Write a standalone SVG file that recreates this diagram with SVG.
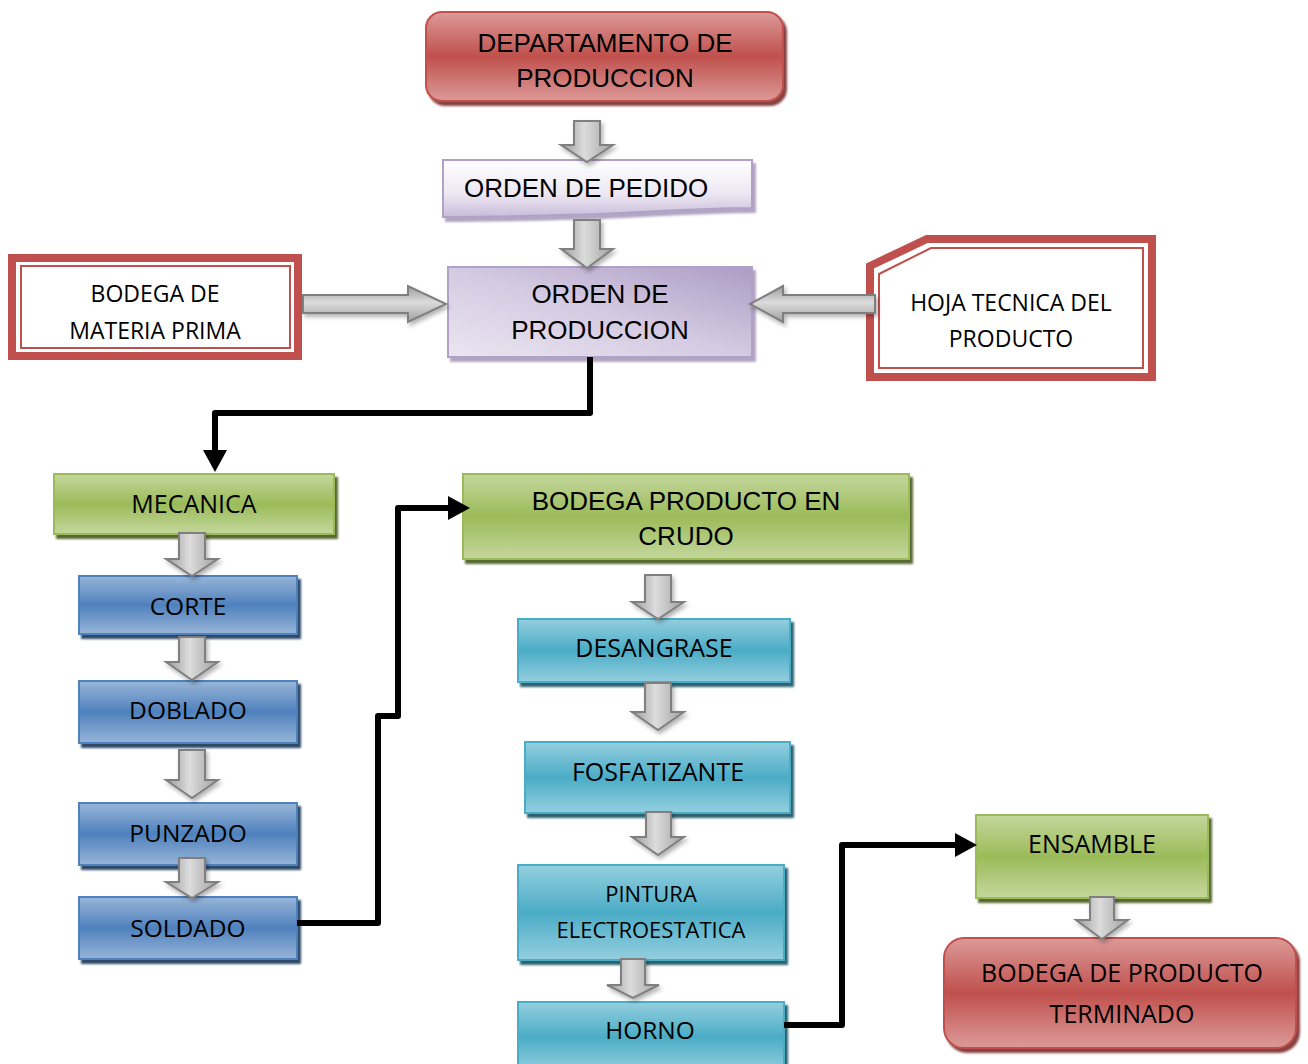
<svg xmlns="http://www.w3.org/2000/svg" width="1308" height="1064" viewBox="0 0 1308 1064">
<style>
.ar{font-family:"Liberation Sans",Arial,sans-serif;font-size:26px;fill:#000;text-anchor:middle}
.ca{font-family:"Open Sans","Noto Sans",sans-serif;font-size:24.5px;fill:#000;text-anchor:middle}
.sm{font-size:23px}
.red{fill:url(#gRed);stroke:#c0504d;stroke-width:2;filter:url(#shRed)}
.grn{fill:url(#gGrn);stroke:#9bbb59;stroke-width:2;filter:url(#shGrn)}
.blu{fill:url(#gBlu);stroke:#4f81bd;stroke-width:2;filter:url(#shBlu)}
.tea{fill:url(#gTea);stroke:#4bacc6;stroke-width:2;filter:url(#shTea)}
.frame{fill:#fff;stroke:#c0504d}
.blk{fill:url(#gArrV);stroke:#7f7f7f;stroke-width:2;filter:url(#shArr)}
.blkh{fill:url(#gArrH);stroke:#7f7f7f;stroke-width:2;filter:url(#shArr)}
.con{fill:none;stroke:#000;stroke-width:6;stroke-linejoin:round;marker-end:url(#ah)}
</style>
<defs>
<linearGradient id="gRed" x1="0" y1="0" x2="0" y2="1"><stop offset="0" stop-color="#dc9a98"/><stop offset="0.5" stop-color="#c0504d"/><stop offset="1" stop-color="#dc9a98"/></linearGradient>
<linearGradient id="gGrn" x1="0" y1="0" x2="0" y2="1"><stop offset="0" stop-color="#c4d79d"/><stop offset="0.5" stop-color="#9bbb59"/><stop offset="1" stop-color="#c4d79d"/></linearGradient>
<linearGradient id="gBlu" x1="0" y1="0" x2="0" y2="1"><stop offset="0" stop-color="#98b5d8"/><stop offset="0.5" stop-color="#4f81bd"/><stop offset="1" stop-color="#98b5d8"/></linearGradient>
<linearGradient id="gTea" x1="0" y1="0" x2="0" y2="1"><stop offset="0" stop-color="#94cfdf"/><stop offset="0.5" stop-color="#4bacc6"/><stop offset="1" stop-color="#94cfdf"/></linearGradient>
<linearGradient id="gLav" x1="0" y1="0" x2="0" y2="1"><stop offset="0" stop-color="#ffffff"/><stop offset="0.6" stop-color="#ece7f2"/><stop offset="1" stop-color="#c9bcda"/></linearGradient>
<linearGradient id="gPur" x1="0" y1="1" x2="1" y2="0"><stop offset="0" stop-color="#ebe6f1"/><stop offset="0.5" stop-color="#d4cae2"/><stop offset="1" stop-color="#ad9cc5"/></linearGradient>
<linearGradient id="gArrV" x1="0" y1="0" x2="1" y2="0"><stop offset="0" stop-color="#9a9a9a"/><stop offset="0.45" stop-color="#dcdcdc"/><stop offset="1" stop-color="#a0a0a0"/></linearGradient>
<linearGradient id="gArrH" x1="0" y1="0" x2="0" y2="1"><stop offset="0" stop-color="#9a9a9a"/><stop offset="0.45" stop-color="#dcdcdc"/><stop offset="1" stop-color="#a0a0a0"/></linearGradient>
<filter id="shRed" x="-10%" y="-20%" width="125%" height="150%"><feDropShadow dx="3" dy="4" stdDeviation="1" flood-color="#7a2f2d" flood-opacity="0.9"/></filter>
<filter id="shGrn" x="-10%" y="-20%" width="125%" height="150%"><feDropShadow dx="3" dy="4" stdDeviation="0.8" flood-color="#4f6228" flood-opacity="0.95"/></filter>
<filter id="shBlu" x="-10%" y="-20%" width="125%" height="150%"><feDropShadow dx="3" dy="4" stdDeviation="0.8" flood-color="#243f60" flood-opacity="0.95"/></filter>
<filter id="shTea" x="-10%" y="-20%" width="125%" height="150%"><feDropShadow dx="3" dy="4" stdDeviation="0.8" flood-color="#215968" flood-opacity="0.95"/></filter>
<filter id="shPur" x="-10%" y="-20%" width="125%" height="150%"><feDropShadow dx="3" dy="4" stdDeviation="1.2" flood-color="#7d6a99" flood-opacity="0.6"/></filter>
<filter id="shArr" x="-30%" y="-30%" width="170%" height="170%"><feDropShadow dx="2" dy="3" stdDeviation="2" flood-color="#000" flood-opacity="0.3"/></filter>
<marker id="ah" viewBox="0 -12 22 24" refX="0" refY="0" markerWidth="22" markerHeight="24" markerUnits="userSpaceOnUse" orient="auto"><path d="M0,-12 L22,0 L0,12 Z" fill="#000"/></marker>
</defs>

<g id="departamento">
<rect class="red" x="426" y="12" width="357" height="89" rx="16"/>
<text class="ar" x="605" y="52">DEPARTAMENTO DE</text>
<text class="ar" x="605" y="87">PRODUCCION</text>
</g>

<g id="orden-pedido">
<path d="M443 160 H752 V208 C700 208 650 212 600 214 C530 216 480 217 443 217 Z" fill="url(#gLav)" stroke="#b2a1c7" stroke-width="2" filter="url(#shPur)"/>
<text class="ar" x="464" y="197" style="text-anchor:start">ORDEN DE PEDIDO</text>
</g>

<g id="orden-produccion">
<rect x="448" y="267" width="304" height="90" fill="url(#gPur)" stroke="#b2a1c7" stroke-width="2" filter="url(#shPur)"/>
<text class="ar" x="600" y="303">ORDEN DE</text>
<text class="ar" x="600" y="339">PRODUCCION</text>
</g>

<g id="bodega-materia-prima">
<rect class="frame" x="12" y="258" width="286" height="98" stroke-width="8"/>
<rect class="frame" x="21" y="266" width="269" height="82" stroke-width="2"/>
<text class="ca sm" x="155" y="302">BODEGA DE</text>
<text class="ca sm" x="155" y="339">MATERIA PRIMA</text>
</g>

<g id="hoja-tecnica">
<path class="frame" d="M870 266 L927 239 H1152 V377 H870 Z" stroke-width="8"/>
<path class="frame" d="M879 274 L931 248 H1143 V368 H879 Z" stroke-width="2"/>
<text class="ca sm" x="1011" y="311">HOJA TECNICA DEL</text>
<text class="ca sm" x="1011" y="347">PRODUCTO</text>
</g>

<g id="mecanica">
<rect class="grn" x="54" y="474" width="280" height="60"/>
<text class="ca" x="194" y="513" style="font-size:25px">MECANICA</text>
</g>

<g id="corte">
<rect class="blu" x="79" y="576" width="218" height="58"/>
<text class="ca" x="188" y="615">CORTE</text>
</g>

<g id="doblado">
<rect class="blu" x="79" y="681" width="218" height="62"/>
<text class="ca" x="188" y="719">DOBLADO</text>
</g>

<g id="punzado">
<rect class="blu" x="79" y="803" width="218" height="62"/>
<text class="ca" x="188" y="842">PUNZADO</text>
</g>

<g id="soldado">
<rect class="blu" x="79" y="897" width="218" height="62"/>
<text class="ca" x="188" y="937">SOLDADO</text>
</g>

<g id="bodega-crudo">
<rect class="grn" x="463" y="474" width="446" height="85"/>
<text class="ar" x="686" y="510">BODEGA PRODUCTO EN</text>
<text class="ar" x="686" y="545">CRUDO</text>
</g>

<g id="desangrase">
<rect class="tea" x="518" y="619" width="272" height="63"/>
<text class="ca" x="654" y="657" style="font-size:25px">DESANGRASE</text>
</g>

<g id="fosfatizante">
<rect class="tea" x="525" y="742" width="265" height="71"/>
<text class="ca" x="658" y="781" style="font-size:25px">FOSFATIZANTE</text>
</g>

<g id="pintura">
<rect class="tea" x="518" y="865" width="266" height="95"/>
<text class="ca sm" x="651" y="902" style="font-size:22px">PINTURA</text>
<text class="ca sm" x="651" y="938" style="font-size:22px">ELECTROESTATICA</text>
</g>

<g id="horno">
<rect class="tea" x="518" y="1002" width="266" height="70"/>
<text class="ca" x="650" y="1039">HORNO</text>
</g>

<g id="ensamble">
<rect class="grn" x="976" y="815" width="232" height="83"/>
<text class="ca" x="1092" y="853" style="font-size:25px">ENSAMBLE</text>
</g>

<g id="bodega-terminado">
<rect class="red" x="944" y="938" width="352" height="110" rx="20"/>
<text class="ca" x="1122" y="982" style="font-size:25px">BODEGA DE PRODUCTO</text>
<text class="ca" x="1122" y="1023" style="font-size:25px">TERMINADO</text>
</g>

<g id="connectors">
<path class="blk" d="M574 121 H600 V145 H613 L587 162 L561 145 H574 Z"/>
<path class="blk" d="M574 220 H600 V249 H613 L587 268 L561 249 H574 Z"/>
<path class="blkh" d="M303 295 H408 V286 L446 304 L408 322 V313 H303 Z"/>
<path class="blkh" d="M875 295 H783 V286 L750 304 L783 322 V313 H875 Z"/>
<path class="blk" d="M179 533 H205 V559 H218 L192 576 L166 559 H179 Z"/>
<path class="blk" d="M179 637 H205 V662 H218 L192 680 L166 662 H179 Z"/>
<path class="blk" d="M179 750 H205 V780 H218 L192 798 L166 780 H179 Z"/>
<path class="blk" d="M179 858 H205 V882 H218 L192 898 L166 882 H179 Z"/>
<path class="blk" d="M645 575 H671 V602 H684 L658 619 L632 602 H645 Z"/>
<path class="blk" d="M645 683 H671 V712 H684 L658 730 L632 712 H645 Z"/>
<path class="blk" d="M646 812 H671 V837 H684 L658 855 L632 837 H646 Z"/>
<path class="blk" d="M621 959 H645 V985 H659 L633 998 L607 985 H621 Z"/>
<path class="blk" d="M1090 897 H1114 V920 H1128 L1102 939 L1076 920 H1090 Z"/>
<path class="con" d="M590 357 V413 H215 V450"/>
<path class="con" d="M297 923 H378 V716 H398 V508 H448"/>
<path class="con" d="M784 1025 H842 V845 H955"/>
</g>
</svg>
